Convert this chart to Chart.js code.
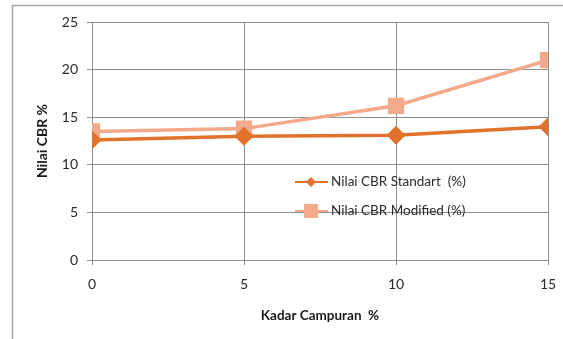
<!DOCTYPE html>
<html>
<head>
<meta charset="utf-8">
<script src="https://cdn.jsdelivr.net/npm/chart.js@4/dist/chart.umd.min.js"></script>
<style>
  html, body { margin: 0; padding: 0; background: #fff; }
  #wrap { width: 563px; height: 339px; position: relative; }
</style>
</head>
<body>
<div id="wrap"><canvas id="cbr" width="563" height="339"></canvas></div>
<script>
// Mix content (%) and CBR values (%)
const mixPercent = [0, 5, 10, 15];
const cbrStandard = [12.6, 13.0, 13.1, 14.0];
const cbrModified = [13.5, 13.8, 16.2, 21.0];
const yTicks = [0, 5, 10, 15, 20, 25];

const seriesNames = ['Nilai CBR Standart  (%)', 'Nilai CBR Modified (%)'];
const xTitle = 'Kadar Campuran  %';
const yTitle = 'Nilai CBR %';

const FONT = 'Lato, "Liberation Sans", sans-serif';
const colStd = '#E2712B';
const colMod = '#F4A98A';

function toPoints(values) {
  return mixPercent.map((x, i) => ({ x: x, y: values[i] }));
}

// Frame around the whole chart
const framePlugin = {
  id: 'frame',
  beforeDraw(chart) {
    const ctx = chart.ctx;
    ctx.save();
    ctx.strokeStyle = '#a6a6a6';
    ctx.lineWidth = 1.5;
    ctx.strokeRect(12.5, 5.5, 700, 500);
    ctx.restore();
  }
};

function drawMarker(ctx, style, x, y, r, color) {
  ctx.fillStyle = color;
  ctx.beginPath();
  if (style === 'rectRot') {
    ctx.moveTo(x, y - r); ctx.lineTo(x + r, y); ctx.lineTo(x, y + r); ctx.lineTo(x - r, y);
  } else {
    ctx.rect(x - r, y - r, 2 * r, 2 * r);
  }
  ctx.closePath();
  ctx.fill();
}

// Legend drawn inside the plot: line sample with marker, then the label
const innerLegend = {
  id: 'innerLegend',
  afterDatasetsDraw(chart) {
    const ctx = chart.ctx;
    const area = chart.chartArea;
    const x0 = area.left + 203;
    const rows = [area.top + 160, area.top + 189];
    ctx.save();
    chart.data.datasets.forEach((ds, i) => {
      const y = rows[i];
      ctx.strokeStyle = ds.borderColor;
      ctx.lineWidth = 2;
      ctx.beginPath();
      ctx.moveTo(x0, y);
      ctx.lineTo(x0 + 33, y);
      ctx.stroke();
      drawMarker(ctx, ds.pointStyle, x0 + 16, y, i === 0 ? 5 : 7, ds.backgroundColor);
      ctx.fillStyle = '#2a2a2a';
      ctx.font = '13.5px ' + FONT;
      ctx.textBaseline = 'middle';
      ctx.fillText(ds.label, x0 + 36, y);
    });
    ctx.restore();
  }
};

function noEdgePadding(scale) {
  scale.paddingLeft = 0;
  scale.paddingRight = 0;
  scale.paddingTop = 0;
  scale.paddingBottom = 0;
}

new Chart(document.getElementById('cbr'), {
  type: 'line',
  data: {
    datasets: [
      {
        label: seriesNames[0],
        data: toPoints(cbrStandard),
        borderColor: colStd,
        backgroundColor: colStd,
        borderWidth: 3.5,
        pointStyle: 'rectRot',
        pointRadius: 7,
        pointHoverRadius: 7,
        tension: 0
      },
      {
        label: seriesNames[1],
        data: toPoints(cbrModified),
        borderColor: colMod,
        backgroundColor: colMod,
        borderWidth: 3.5,
        pointStyle: 'rect',
        pointRadius: 9,
        pointHoverRadius: 9,
        tension: 0
      }
    ]
  },
  options: {
    responsive: false,
    animation: false,
    events: [],
    layout: { padding: { left: 0, right: 15, top: 22, bottom: 0 } },
    plugins: {
      legend: { display: false },
      tooltip: { enabled: false }
    },
    scales: {
      x: {
        type: 'linear',
        min: 0,
        max: 15,
        afterBuildTicks(scale) { scale.ticks = mixPercent.map(v => ({ value: v })); },
        afterFit(scale) { scale.height = 79; noEdgePadding(scale); },
        grid: { color: '#8f8f8f', lineWidth: 1, tickLength: 5, drawTicks: true },
        border: { color: '#8f8f8f', width: 1 },
        ticks: { color: '#2a2a2a', font: { family: FONT, size: 14 }, padding: 11, maxRotation: 0 },
        title: {
          display: true, text: xTitle, color: '#1a1a1a',
          font: { family: FONT, size: 13.5, weight: 'bold' },
          padding: { top: 0, bottom: 15 }
        }
      },
      y: {
        min: 0,
        max: 25,
        afterBuildTicks(scale) { scale.ticks = yTicks.map(v => ({ value: v })); },
        afterFit(scale) { scale.width = 92; noEdgePadding(scale); },
        grid: { color: '#8f8f8f', lineWidth: 1, tickLength: 5, drawTicks: true },
        border: { color: '#8f8f8f', width: 1 },
        ticks: { color: '#2a2a2a', font: { family: FONT, size: 14 }, padding: 9 },
        title: {
          display: true, text: yTitle, color: '#1a1a1a',
          font: { family: FONT, size: 14, weight: 'bold' },
          padding: { top: 34, bottom: 0 }
        }
      }
    }
  },
  plugins: [framePlugin, innerLegend]
});
</script>
</body>
</html>
